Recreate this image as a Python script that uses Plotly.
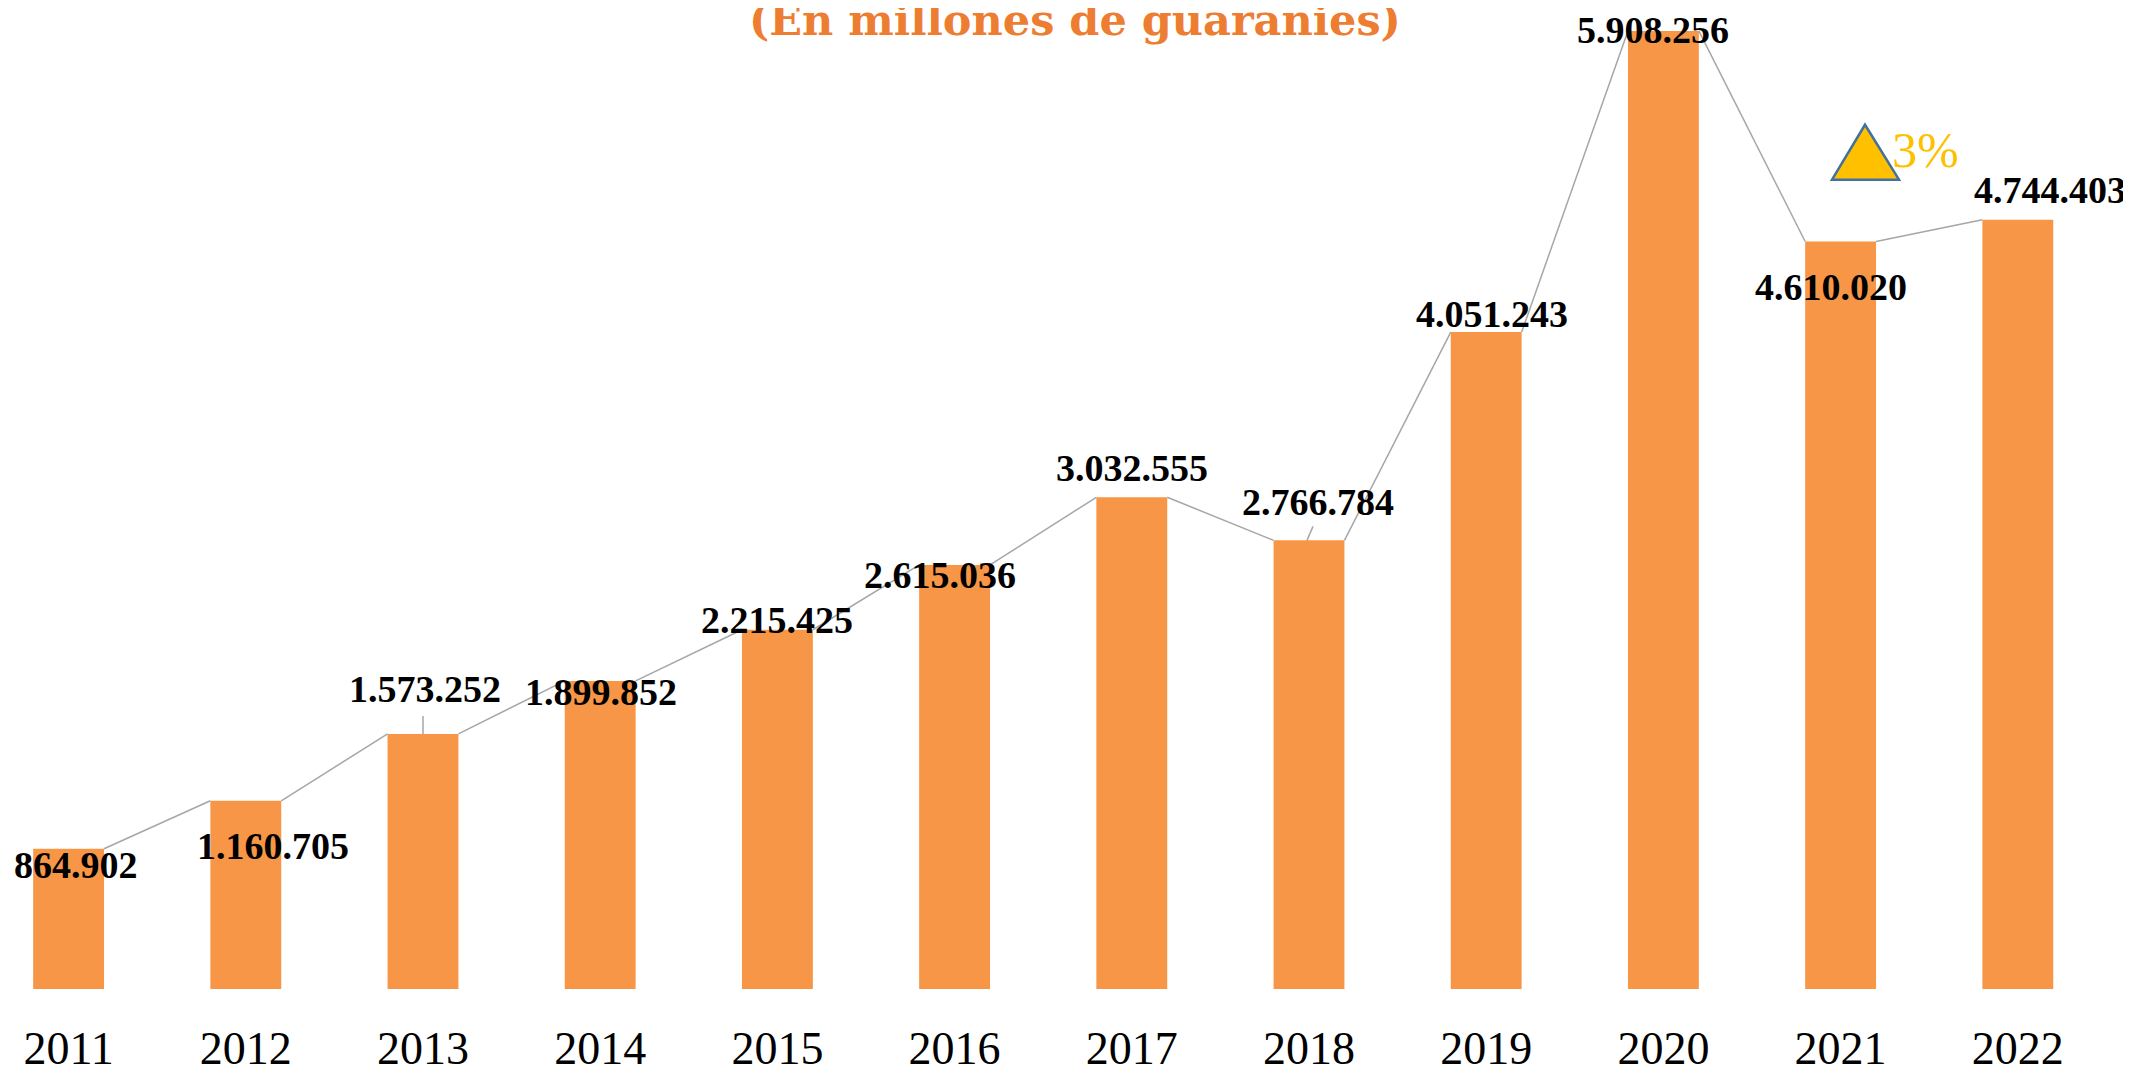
import plotly.graph_objects as go

years = ["2011", "2012", "2013", "2014", "2015", "2016", "2017", "2018", "2019", "2020", "2021", "2022"]
values = [864902, 1160705, 1573252, 1899852, 2215425, 2615036, 3032555, 2766784, 4051243, 5908256, 4610020, 4744403]
labels = ["864.902", "1.160.705", "1.573.252", "1.899.852", "2.215.425", "2.615.036",
          "3.032.555", "2.766.784", "4.051.243", "5.908.256", "4.610.020", "4.744.403"]
# manual label offsets in pixels (xshift, yshift) relative to bar top centre
label_shift = [(7, -16), (27, -45), (2, 45), (1, -11), (0, 10), (-15, -10),
               (0, 29), (9, 38), (6, 18), (-10, 1), (-10, -46), (32, 30)]
growth_text = "3%"
title_text = "(En millones de guaranies)"

OFF = 8                     # page body margin
W, H = 2131 - OFF, 1074 - OFF
plot_bottom = 991 - OFF
MB = H - plot_bottom
plot_h = plot_bottom
bar_w = 0.4
xs = list(range(len(years)))

fig = go.Figure()
fig.add_trace(go.Bar(x=xs, y=values, width=bar_w, marker=dict(color="#F79646", line=dict(width=0)),
                     hoverinfo="skip"))

# series connector lines (right edge of bar i to left edge of bar i+1)
lx, ly = [], []
for i in range(len(values) - 1):
    lx += [i + bar_w / 2, i + 1 - bar_w / 2, None]
    ly += [values[i], values[i + 1], None]
fig.add_trace(go.Scatter(x=lx, y=ly, mode="lines", line=dict(color="#A6A6A6", width=1.5),
                         hoverinfo="skip"))

for i, (lab, (dx, dy)) in enumerate(zip(labels, label_shift)):
    fig.add_annotation(x=i, y=values[i], xref="x", yref="y", text="<b>%s</b>" % lab,
                       showarrow=False, xshift=dx, yshift=dy, xanchor="center", yanchor="middle",
                       font=dict(family="Liberation Serif", size=38, color="#000000"))

# leader lines for 2013 and 2018 labels
fig.add_shape(type="line", xref="x", yref="y", xsizemode="pixel", ysizemode="pixel",
              xanchor=2, yanchor=values[2], x0=0, x1=0, y0=0, y1=18,
              line=dict(color="#A6A6A6", width=1.5))
fig.add_shape(type="line", xref="x", yref="y", xsizemode="pixel", ysizemode="pixel",
              xanchor=7, yanchor=values[7], x0=-2, x1=4, y0=0, y1=14,
              line=dict(color="#A6A6A6", width=1.5))

# growth triangle (page pixel coords -> paper)
def px(x):
    return (x - OFF) / W
def py(y):
    return (plot_h - (y - OFF)) / plot_h
fig.add_shape(type="path", xref="paper", yref="paper",
              path="M %f %f L %f %f L %f %f Z" % (px(1865), py(125), px(1832), py(180), px(1899), py(180)),
              fillcolor="#FFC000", line=dict(color="#41719C", width=2.5))
fig.add_annotation(x=px(1925), y=py(150), xref="paper", yref="paper", text=growth_text,
                   showarrow=False, xanchor="center", yanchor="middle",
                   font=dict(family="Liberation Serif", size=50, color="#FFC000"))

fig.add_annotation(x=px(1075), y=py(20), xref="paper", yref="paper", text="<b>%s</b>" % title_text,
                   showarrow=False, xanchor="center", yanchor="middle",
                   font=dict(family="DejaVu Serif", size=43, color="#ED7D31"))

x_unit = 177.2
x0px = 68.6 - OFF
fig.update_layout(
    width=W, height=H, margin=dict(l=0, r=0, t=0, b=MB),
    paper_bgcolor="white", plot_bgcolor="white", showlegend=False,
    xaxis=dict(tickmode="array", tickvals=xs, ticktext=years,
               range=[-x0px / x_unit, (W - x0px) / x_unit],
               showgrid=False, zeroline=False, showline=False, ticks="",
               ticklabelstandoff=28,
               tickfont=dict(family="Liberation Serif", size=46, color="#000000")),
    yaxis=dict(range=[0, max(values) * plot_h / 960], visible=False, showgrid=False, zeroline=False),
)
fig.write_html("out.html")
